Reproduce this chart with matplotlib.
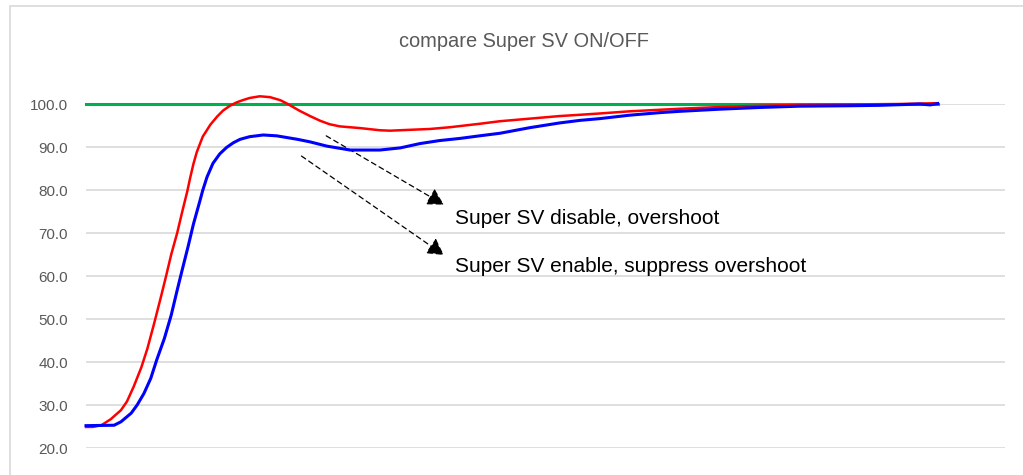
import matplotlib
matplotlib.use("Agg")
import matplotlib.pyplot as plt
from matplotlib.patches import Rectangle

plt.rcParams['font.family'] = ['Liberation Sans', 'DejaVu Sans']

# elapsed time (s) and process value for each run
time_off = [0, 8, 18, 29, 41, 48, 56, 65, 72, 80, 88, 94, 100, 107, 113, 119, 122, 126, 130,
            137, 146, 154, 161, 169, 177, 184, 192, 204, 216, 228, 236, 251, 263, 275, 286,
            298, 322, 345, 357, 380, 404, 427, 462, 486, 521, 556, 580, 603, 638, 697, 744,
            791, 838, 897, 955, 1000]
pv_off = [24.9, 24.9, 25.3, 26.7, 28.8, 30.8, 34.3, 38.8, 43.1, 49.0, 55.2, 60.0, 65.0, 70.0,
          75.0, 79.8, 82.6, 86.0, 88.8, 92.4, 95.2, 97.1, 98.5, 99.6, 100.4, 100.9, 101.4,
          101.8, 101.6, 100.9, 100.1, 98.4, 97.2, 96.1, 95.3, 94.8, 94.4, 93.9, 93.8, 94.0,
          94.2, 94.6, 95.4, 96.0, 96.6, 97.2, 97.5, 97.8, 98.3, 98.9, 99.3, 99.6, 99.8, 99.9,
          100.0, 100.2]

time_on = [0, 33, 41, 53, 60, 68, 76, 83, 92, 100, 107, 113, 120, 126, 134, 137, 142, 149,
           157, 165, 173, 181, 192, 208, 224, 236, 248, 263, 283, 310, 345, 369, 392, 415,
           439, 462, 486, 521, 556, 580, 603, 638, 674, 697, 744, 791, 838, 897, 932, 979,
           991, 1000]
pv_on = [25.2, 25.3, 26.1, 28.1, 30.0, 32.7, 36.2, 40.5, 45.5, 50.9, 56.7, 61.5, 67.0, 72.0,
         77.7, 79.9, 83.0, 86.2, 88.4, 89.9, 91.0, 91.8, 92.4, 92.8, 92.6, 92.2, 91.8, 91.2,
         90.2, 89.3, 89.3, 89.8, 90.8, 91.5, 92.0, 92.6, 93.2, 94.5, 95.6, 96.2, 96.6, 97.4,
         98.0, 98.3, 98.8, 99.2, 99.5, 99.6, 99.7, 100.0, 99.8, 100.1]

time_sv = [0, 1000]
sv = [100.0, 100.0]

y_ticks = [20, 30, 40, 50, 60, 70, 80, 90, 100]

# annotation text and arrows: (text, text pos, arrow start, arrow tip)
notes = [
    ("Super SV disable, overshoot", (433, 72.1), (282, 92.6), (420, 76.6)),
    ("Super SV enable, suppress overshoot", (433, 60.9), (253, 87.9), (420, 64.9)),
]

fig = plt.figure(figsize=(10.23, 4.75), dpi=100)
ax = fig.add_axes([0.0841, 0.0568, 0.8983, 0.7242])

grey = '#595959'
ax.plot(time_sv, sv, color='#00b050', lw=2.2, clip_on=False, zorder=3)
ax.plot(time_off, pv_off, color='#ff0000', lw=1.8, clip_on=False, zorder=4,
        solid_joinstyle='round')
ax.plot(time_on, pv_on, color='#0000ff', lw=2.2, clip_on=False, zorder=5,
        solid_joinstyle='round')

ax.set_xlim(0, 1079)
ax.set_ylim(20, 100)
ax.set_yticks(y_ticks)
ax.set_yticklabels([f"{v:.1f}" for v in y_ticks])
ax.set_xticks([])
ax.tick_params(axis='y', length=0, pad=13, labelsize=11, labelcolor=grey)
ax.yaxis.grid(True, color='#d9d9d9', lw=1.2)
ax.set_axisbelow(True)
for s in ax.spines.values():
    s.set_visible(False)

for text, pos, start, tip in notes:
    ax.annotate('', xy=tip, xytext=start,
                arrowprops=dict(arrowstyle='-|>,head_length=1.0,head_width=0.56',
                                color='black', lw=0.9, linestyle=(0, (4, 3)),
                                shrinkA=0, shrinkB=0, mutation_scale=10))
    ax.text(pos[0], pos[1], text, fontsize=15, color='black', va='baseline', ha='left')

fig.text(0.512, 0.912, "compare Super SV ON/OFF", fontsize=14.4, color=grey,
         ha='center', va='center')

# chart area border
fig.patches.append(Rectangle((10 / 1023, -0.1), 1.2, 469 / 475 + 0.1, transform=fig.transFigure,
                             fill=False, edgecolor='#d9d9d9', lw=1.2, zorder=0))

fig.savefig('out.png', dpi=100)
